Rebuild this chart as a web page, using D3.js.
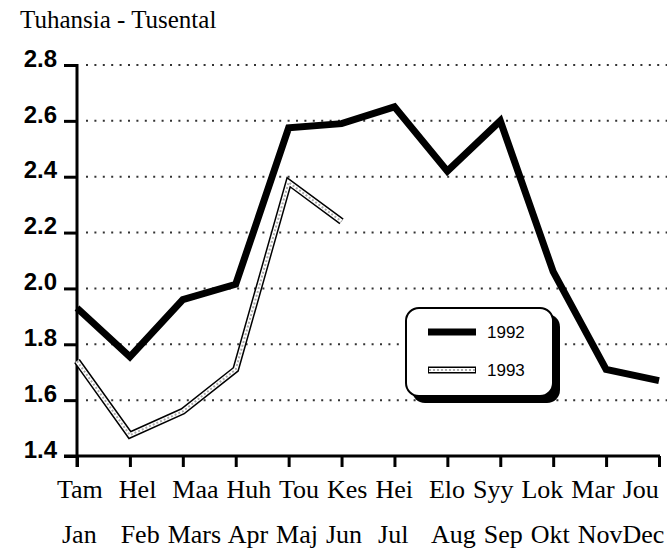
<!DOCTYPE html>
<html>
<head>
<meta charset="utf-8">
<script src="https://cdn.jsdelivr.net/npm/d3@7/dist/d3.min.js"></script>
<style>
  body { margin: 0; background: #fff; }
  svg { display: block; }
</style>
</head>
<body>
<svg id="chart" width="667" height="548"></svg>
<script>
// month labels, finnish on top row, swedish below
var monthsFi = ["Tam", "Hel", "Maa", "Huh", "Tou", "Kes", "Hei", "Elo", "Syy", "Lok", "Mar", "Jou"];
var monthsSv = ["Jan", "Feb", "Mars", "Apr", "Maj", "Jun", "Jul", "Aug", "Sep", "Okt", "Nov", "Dec"];
// the month rows were typed as plain text, spaces as in the original
var rowFi = "Tam  Hel  Maa Huh Tou Kes Hei  Elo Syy Lok Mar Jou";
var rowSv = "Jan   Feb Mars Apr Maj Jun  Jul   Aug Sep Okt NovDec";
var yTicks = [1.4, 1.6, 1.8, 2.0, 2.2, 2.4, 2.6, 2.8];
var values1992 = [1.93, 1.755, 1.96, 2.015, 2.575, 2.59, 2.65, 2.42, 2.60, 2.06, 1.71, 1.67];
var values1993 = [1.74, 1.475, 1.56, 1.71, 2.38, 2.24];
var seriesNames = ["1992", "1993"];

var svg = d3.select("#chart");

var x = d3.scalePoint().domain(monthsFi).range([77, 659]);
var y = d3.scaleLinear().domain([1.4, 2.8]).range([456, 65]);

var serif = "Liberation Serif, Times New Roman, serif";
var sans = "Liberation Sans, Arial, sans-serif";

// title
svg.append("text")
    .attr("x", 20).attr("y", 28)
    .style("font-family", serif)
    .style("font-size", "25px")
    .text("Tuhansia - Tusental");

// dotted grid
svg.append("g")
    .selectAll("line")
    .data(yTicks.filter(function(d){ return d > 1.4; }))
    .join("line")
    .attr("x1", 86).attr("x2", 667)
    .attr("y1", function(d){ return y(d); })
    .attr("y2", function(d){ return y(d); })
    .attr("stroke", "#333")
    .attr("stroke-width", 2)
    .attr("stroke-dasharray", "2,6.4");

// y axis
var yAxis = svg.append("g")
    .attr("transform", "translate(77,0)")
    .call(d3.axisLeft(y).tickValues(yTicks).tickSize(13).tickPadding(7).tickFormat(d3.format(".1f")));
yAxis.select(".domain").attr("stroke", "#000").attr("stroke-width", 3).attr("d", "M0,64V467");
yAxis.selectAll(".tick line").attr("stroke", "#000").attr("stroke-width", 3);
yAxis.selectAll(".tick text")
    .attr("dy", "0.05em")
    .style("font-family", sans)
    .style("font-weight", "bold")
    .style("font-size", "24px")
    .attr("fill", "#000");

// x axis, ticks only; labels are typed rows below
var xAxis = svg.append("g")
    .attr("transform", "translate(0,456)")
    .call(d3.axisBottom(x).tickSize(11).tickFormat(""));
xAxis.select(".domain").attr("stroke", "#000").attr("stroke-width", 3).attr("d", "M64,0H660");
xAxis.selectAll(".tick line").attr("stroke", "#000").attr("stroke-width", 3);

svg.append("g")
    .selectAll("text")
    .data([[rowFi, 57, 498], [rowSv, 62, 543]])
    .join("text")
    .attr("x", function(d){ return d[1]; })
    .attr("y", function(d){ return d[2]; })
    .attr("xml:space", "preserve")
    .style("white-space", "pre")
    .style("font-family", serif)
    .style("font-size", "26px")
    .style("word-spacing", "1.5px")
    .text(function(d){ return d[0]; });

var line = d3.line()
    .x(function(d, i){ return x(monthsFi[i]); })
    .y(function(d){ return y(d); });

// 1993 - outlined light line
svg.append("path").datum(values1993).attr("d", line)
    .attr("fill", "none").attr("stroke", "#000").attr("stroke-width", 7)
    .attr("stroke-linejoin", "miter");
svg.append("path").datum(values1993).attr("d", line)
    .attr("fill", "none").attr("stroke", "#fff").attr("stroke-width", 4);
svg.append("path").datum(values1993).attr("d", line)
    .attr("fill", "none").attr("stroke", "#aaa").attr("stroke-width", 2)
    .attr("stroke-dasharray", "2,2");

// 1992 - thick black
svg.append("path").datum(values1992).attr("d", line)
    .attr("fill", "none").attr("stroke", "#000").attr("stroke-width", 7)
    .attr("stroke-linejoin", "miter");

// legend
var lg = svg.append("g").attr("transform", "translate(406,308)");
lg.append("rect").attr("x", 6).attr("y", 6).attr("width", 148).attr("height", 89)
    .attr("rx", 13).attr("fill", "#000");
lg.append("rect").attr("x", 0).attr("y", 0).attr("width", 147).attr("height", 88)
    .attr("rx", 13).attr("fill", "#fff").attr("stroke", "#000").attr("stroke-width", 2);

var items = lg.selectAll("g.item").data(seriesNames).join("g")
    .attr("class", "item")
    .attr("transform", function(d, i){ return "translate(0," + (24 + i * 38) + ")"; });
items.each(function(d, i){
    var g = d3.select(this);
    g.append("line").attr("x1", 22).attr("x2", 70).attr("y1", 0).attr("y2", 0)
        .attr("stroke", "#000").attr("stroke-width", 7);
    if (i == 1) {
        g.append("line").attr("x1", 23).attr("x2", 69).attr("y1", 0).attr("y2", 0)
            .attr("stroke", "#fff").attr("stroke-width", 4);
        g.append("line").attr("x1", 23).attr("x2", 69).attr("y1", 0).attr("y2", 0)
            .attr("stroke", "#aaa").attr("stroke-width", 2).attr("stroke-dasharray", "2,2");
    }
    g.append("text").attr("x", 81).attr("y", 6)
        .style("font-family", sans)
        .style("font-size", "17px")
        .text(d);
});
</script>
</body>
</html>
